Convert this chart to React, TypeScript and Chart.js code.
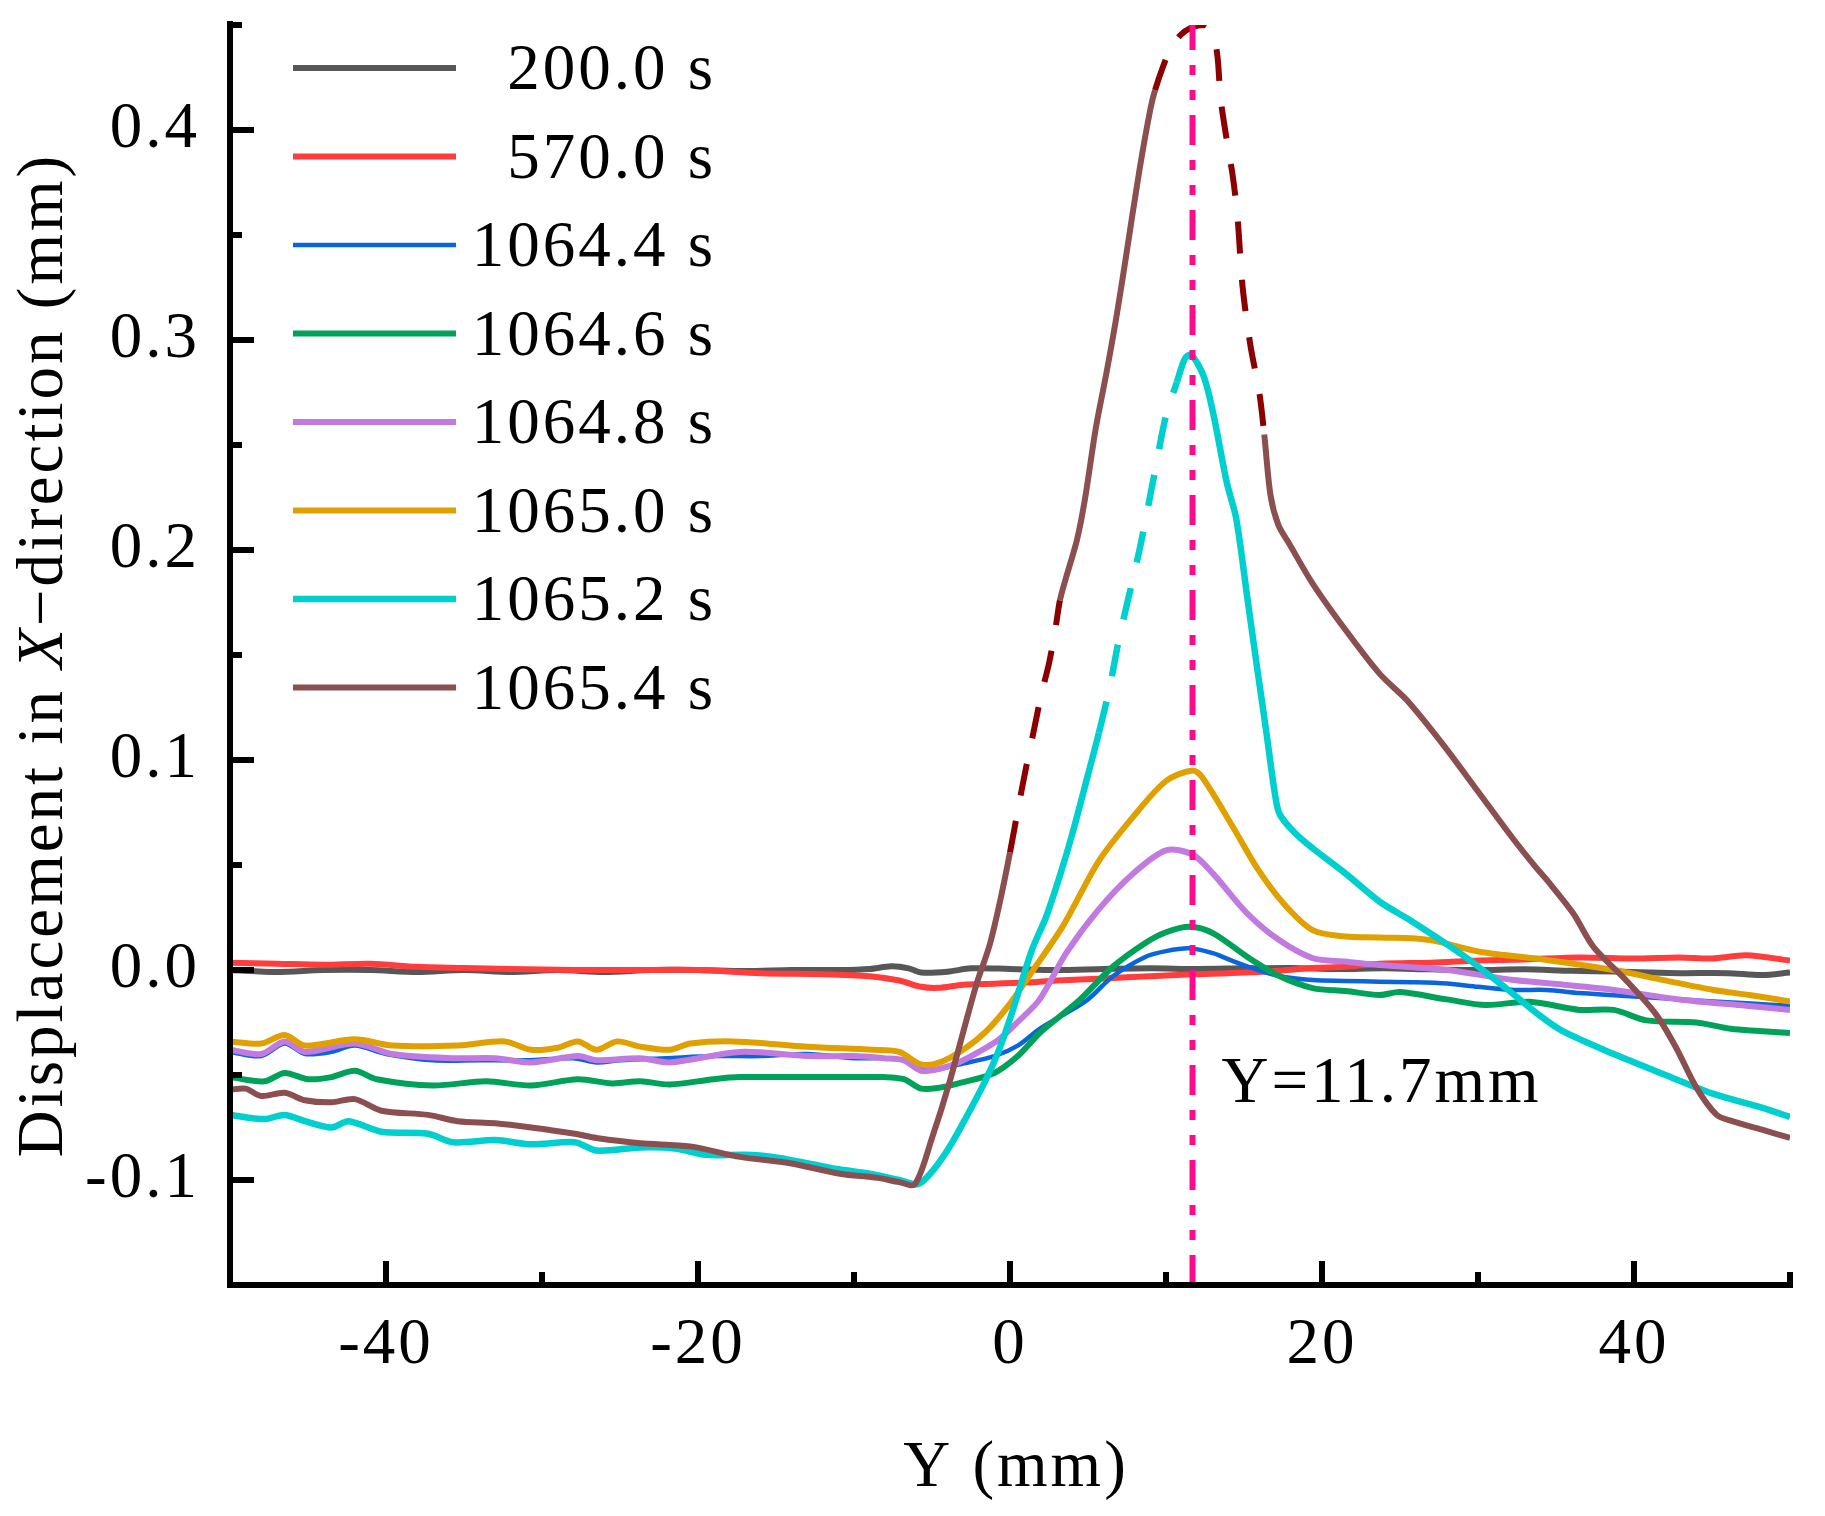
import { useEffect, useRef } from "react";
import Chart from "chart.js/auto";

const FONT = "'Liberation Serif', 'Times New Roman', serif";
const SPACING = "3px";

const seriesLabels = ["200.0 s", "570.0 s", "1064.4 s", "1064.6 s", "1064.8 s", "1065.0 s", "1065.2 s", "1065.4 s"];
const seriesColors = ["#575757", "#ff3d3d", "#0a64dc", "#00a25a", "#c07ae0", "#e0a000", "#00cfd0", "#8c4f4f"];
const seriesWidths = [6, 6, 4.5, 6, 6, 6, 6.5, 6];

const x200 = [-50, -47, -44, -41, -38, -35, -32, -29, -26, -23, -20, -17, -14, -11, -9, -7.6, -6.5, -5.7, -4, -2.5, 0, 3, 6, 9, 12, 15, 18, 21, 24, 27, 30, 33, 36, 38.7, 41, 43, 46, 48.2, 50];
const y200 = [0.0, -0.001, 0.0, 0.0, -0.001, 0.0, -0.001, 0.0, -0.001, 0.0, 0.0, -0.0005, 0.0, 0.0, 0.0005, 0.0018, 0.0008, -0.0012, -0.0008, 0.0008, 0.0005, 0.0, 0.0005, 0.0008, 0.0005, 0.0008, 0.001, 0.0005, 0.0008, 0.0003, 0.0, 0.0003, -0.0004, -0.0007, -0.0012, -0.0015, -0.0015, -0.0024, -0.0012];

const x570 = [-50, -47, -44, -41, -38, -35, -32, -28, -24, -20, -16, -12, -9, -7.1, -5.7, -4.6, -3, -1, 1, 3, 6, 9, 11.7, 14, 17, 19.4, 21.5, 23.7, 27, 30.1, 33, 36.5, 40, 42.9, 45, 47.2, 50];
const y570 = [0.0035, 0.003, 0.0025, 0.003, 0.0015, 0.001, 0.0005, 0.0, 0.0, 0.0, -0.0015, -0.002, -0.003, -0.005, -0.008, -0.0085, -0.007, -0.0065, -0.006, -0.005, -0.004, -0.003, -0.002, -0.0015, -0.0005, 0.001, 0.0015, 0.003, 0.0035, 0.0045, 0.005, 0.006, 0.0055, 0.006, 0.0055, 0.007, 0.0045];

const x1064_4 = [-50, -48, -46.5, -45.2, -43.5, -42, -40, -37, -34, -31, -28, -26.5, -25, -22, -19, -16, -13, -10, -8, -6.8, -5.7, -4.5, -3.3, -1.0, 0.5, 1.9, 3.5, 5.0, 6.6, 8.7, 10.0, 11.5, 13.0, 14.1, 15.5, 17.3, 19.4, 21.5, 23.7, 26, 28, 30, 32.3, 34.4, 36.5, 38.7, 40.8, 43, 45.1, 47.5, 50];
const y1064_4 = [-0.039, -0.041, -0.035, -0.04, -0.039, -0.036, -0.04, -0.043, -0.043, -0.043, -0.042, -0.044, -0.043, -0.042, -0.041, -0.041, -0.04, -0.042, -0.042, -0.043, -0.047, -0.047, -0.045, -0.041, -0.036, -0.028, -0.021, -0.014, -0.003, 0.0063, 0.009, 0.0103, 0.008, 0.0048, 0.001, -0.003, -0.0048, -0.0052, -0.0056, -0.0058, -0.0064, -0.008, -0.0095, -0.0095, -0.011, -0.012, -0.013, -0.014, -0.015, -0.016, -0.017];

const x1064_6 = [-50, -47.8, -46.5, -45, -43.5, -42, -40.6, -37, -33.6, -30.7, -27.7, -25.5, -23.7, -21.8, -19, -17.3, -13, -10, -8.1, -6.8, -5.7, -4.5, -3.3, -1.0, 0.5, 1.9, 3.2, 4.5, 6.6, 8.7, 10, 11.5, 13, 15.2, 17.3, 19.4, 21.5, 23.7, 25, 28, 30.5, 33.3, 36.5, 38.7, 40.8, 44, 46.2, 48, 50];
const y1064_6 = [-0.051, -0.053, -0.049, -0.052, -0.051, -0.048, -0.052, -0.055, -0.053, -0.055, -0.052, -0.054, -0.053, -0.0545, -0.052, -0.051, -0.051, -0.051, -0.051, -0.052, -0.0565, -0.056, -0.054, -0.049, -0.041, -0.03, -0.022, -0.014, 0.0016, 0.013, 0.018, 0.0206, 0.0176, 0.0063, -0.003, -0.0086, -0.01, -0.0119, -0.0105, -0.014, -0.0167, -0.0151, -0.019, -0.019, -0.024, -0.025, -0.028, -0.029, -0.03];

const x1064_8 = [-50, -48, -46.5, -45.2, -42, -39.6, -35.8, -33, -30.7, -27.7, -26.5, -23.7, -21.8, -17.3, -13, -10, -8.1, -6.8, -5.7, -4.5, -3.3, -2, -0.7, 0.6, 1.9, 3.6, 5.7, 7.9, 10.0, 11.7, 13.0, 15.2, 17.3, 19.4, 21.5, 23.7, 28, 32.3, 35.5, 38.7, 42.9, 47.2, 50];
const y1064_8 = [-0.038, -0.04, -0.034, -0.039, -0.035, -0.04, -0.042, -0.042, -0.044, -0.041, -0.043, -0.042, -0.044, -0.039, -0.041, -0.041, -0.042, -0.043, -0.048, -0.047, -0.044, -0.039, -0.033, -0.024, -0.014, 0.008, 0.029, 0.046, 0.057, 0.055, 0.046, 0.027, 0.014, 0.0057, 0.004, 0.0024, 0.0, -0.0048, -0.007, -0.0095, -0.014, -0.017, -0.019];

const x1065_0 = [-50, -48, -46.5, -45.2, -42, -39.6, -35.4, -32.4, -30.7, -29, -27.7, -26.5, -25.2, -23.7, -21.8, -20.5, -17.7, -13, -8.8, -7.1, -5.7, -4.5, -3.0, -1.5, 0, 1.3, 3.4, 5.7, 7.9, 10.0, 11.7, 12.3, 14.3, 15.8, 17.5, 19.4, 21.5, 23.7, 26.9, 30.1, 34.4, 38.7, 41.9, 45.1, 47.5, 50];
const y1065_0 = [-0.034, -0.035, -0.031, -0.036, -0.033, -0.036, -0.036, -0.034, -0.038, -0.037, -0.034, -0.038, -0.034, -0.0365, -0.038, -0.035, -0.034, -0.0365, -0.038, -0.039, -0.045, -0.044, -0.038, -0.029, -0.016, -0.002, 0.021, 0.052, 0.073, 0.09, 0.095, 0.092, 0.068, 0.049, 0.032, 0.019, 0.016, 0.0155, 0.0143, 0.0087, 0.0048, 0.0, -0.0048, -0.0095, -0.012, -0.015];

const x1065_2 = [-50, -47.8, -46.5, -45.2, -43.5, -42.4, -40.3, -37.3, -35.7, -33, -30.7, -27.9, -26.5, -23.7, -21.5, -19.5, -17, -15.2, -13, -10.9, -9, -7.1, -5.9, -5, -3.9, -2.8, -1.6, -0.7, 0.1, 1.4, 2.3, 3.2, 4.0, 5.0, 5.7, 6.4, 7.0, 8.3, 9.2, 10.0, 10.7, 11.2, 11.6, 12.4, 13.0, 13.9, 14.5, 15.2, 15.8, 16.4, 17.0, 17.3, 18.3, 19.4, 21.5, 23.7, 25.8, 29, 31.8, 33.9, 35.4, 38.7, 41.9, 45.1, 48.2, 50];
const y1065_2 = [-0.069, -0.071, -0.069, -0.072, -0.075, -0.072, -0.077, -0.078, -0.082, -0.081, -0.083, -0.082, -0.086, -0.0845, -0.085, -0.088, -0.088, -0.089, -0.092, -0.095, -0.097, -0.1, -0.102, -0.096, -0.0845, -0.07, -0.053, -0.038, -0.021, 0.0095, 0.025, 0.045, 0.065, 0.093, 0.113, 0.135, 0.158, 0.2, 0.234, 0.264, 0.28, 0.291, 0.293, 0.283, 0.266, 0.232, 0.215, 0.178, 0.146, 0.115, 0.083, 0.074, 0.065, 0.058, 0.046, 0.0325, 0.023, 0.0072, -0.0087, -0.0214, -0.029, -0.04, -0.0496, -0.059, -0.0655, -0.07];

const x1065_4 = [-50, -49, -48, -46.5, -45.2, -43.5, -42, -40.3, -37.3, -35.4, -33, -30.7, -27.9, -26.5, -23.7, -20.5, -17.3, -14.1, -10.9, -8.5, -7.1, -6.1, -5.0, -3.9, -2.2, -1.3, -0.6, 0.0, 0.6, 1.1, 1.5, 2.0, 2.5, 2.9, 3.2, 3.6, 4.3, 4.8, 5.5, 6.2, 6.8, 7.4, 8.3, 9.0, 9.3, 9.8, 10.2, 10.9, 11.7, 12.5, 13.0, 13.3, 13.5, 13.9, 14.3, 14.6, 14.9, 15.4, 16.0, 16.3, 16.7, 17.2, 17.9, 19.4, 21.5, 23.7, 25.5, 27.8, 30, 32.2, 33.7, 34.4, 36.1, 37.4, 39.5, 41.4, 42.7, 44.0, 45.3, 46.3, 48.2, 50];
const y1065_4 = [-0.057, -0.0565, -0.06, -0.0585, -0.062, -0.063, -0.0615, -0.067, -0.069, -0.072, -0.073, -0.075, -0.078, -0.08, -0.0825, -0.084, -0.089, -0.092, -0.097, -0.099, -0.101, -0.102, -0.08, -0.054, -0.008, 0.012, 0.034, 0.056, 0.08, 0.099, 0.113, 0.131, 0.146, 0.162, 0.176, 0.187, 0.205, 0.224, 0.258, 0.285, 0.31, 0.338, 0.381, 0.41, 0.419, 0.43, 0.437, 0.445, 0.449, 0.45, 0.446, 0.435, 0.415, 0.395, 0.377, 0.357, 0.326, 0.298, 0.274, 0.255, 0.226, 0.212, 0.203, 0.184, 0.162, 0.141, 0.128, 0.107, 0.085, 0.063, 0.049, 0.043, 0.027, 0.011, -0.005, -0.021, -0.037, -0.056, -0.069, -0.072, -0.076, -0.08];

const seriesX = [x200, x570, x1064_4, x1064_6, x1064_8, x1065_0, x1065_2, x1065_4];
const seriesY = [y200, y570, y1064_4, y1064_6, y1064_8, y1065_0, y1065_2, y1065_4];

// x-ranges drawn dashed (estimated parts of the curves)
const cyanDashed = [[5.7, 10.7]];
const brownDashed = [[0.0, 3.2], [9.3, 16.3]];

const xTicks = [-40, -20, 0, 20, 40];
const xMinorTicks = [-50, -30, -10, 10, 30, 50];
const yTicks = [-0.1, 0, 0.1, 0.2, 0.3, 0.4];
const yMinorTicks = [-0.05, 0.05, 0.15, 0.25, 0.35, 0.45];
const markerY = 11.7;

const inRanges = (ranges: number[][]) => (c: any) =>
  ranges.some(([a, b]) => c.p0.parsed.x >= a - 1e-6 && c.p1.parsed.x <= b + 1e-6);

// the original text is set a little wider than Liberation Serif
const spacing = {
  id: "spacing",
  beforeUpdate(chart: any) {
    chart.ctx.letterSpacing = SPACING;
  },
  beforeDraw(chart: any) {
    chart.ctx.letterSpacing = SPACING;
  },
};

const decorations = {
  id: "decorations",
  afterDatasetsDraw(chart: any) {
    const { ctx, chartArea: a, scales } = chart;
    const sx = scales.x;
    const sy = scales.y;
    ctx.save();
    ctx.letterSpacing = SPACING;

    // vertical marker
    const mx = sx.getPixelForValue(markerY);
    ctx.strokeStyle = "#ff0a8c";
    ctx.lineWidth = 6;
    ctx.setLineDash([30, 15, 10, 15, 10, 15]);
    ctx.beginPath();
    ctx.moveTo(mx, a.bottom);
    ctx.lineTo(mx, a.top);
    ctx.stroke();
    ctx.setLineDash([]);

    ctx.fillStyle = "#000";
    ctx.font = `65px ${FONT}`;
    ctx.textAlign = "left";
    ctx.textBaseline = "alphabetic";
    ctx.fillText(`Y=${markerY}mm`, mx + 29, sy.getPixelForValue(-0.063));

    // axes
    ctx.strokeStyle = "#000";
    ctx.lineWidth = 6;
    ctx.beginPath();
    ctx.moveTo(a.left, a.top - 4);
    ctx.lineTo(a.left, a.bottom + 3);
    ctx.moveTo(a.left - 3, a.bottom);
    ctx.lineTo(a.right + 3, a.bottom);
    ctx.stroke();

    ctx.beginPath();
    xTicks.forEach((v) => {
      const p = sx.getPixelForValue(v);
      ctx.moveTo(p, a.bottom);
      ctx.lineTo(p, a.bottom - 24);
    });
    xMinorTicks.forEach((v) => {
      const p = sx.getPixelForValue(v);
      ctx.moveTo(p, a.bottom);
      ctx.lineTo(p, a.bottom - 13);
    });
    yTicks.forEach((v) => {
      const p = sy.getPixelForValue(v);
      ctx.moveTo(a.left, p);
      ctx.lineTo(a.left + 24, p);
    });
    yMinorTicks.forEach((v) => {
      const p = sy.getPixelForValue(v);
      ctx.moveTo(a.left, p);
      ctx.lineTo(a.left + 12, p);
    });
    ctx.stroke();

    // legend
    ctx.font = `65px ${FONT}`;
    ctx.textAlign = "right";
    ctx.textBaseline = "middle";
    chart.data.datasets.forEach((ds: any, i: number) => {
      const y = a.top + 43 + i * 88.5;
      ctx.strokeStyle = ds.borderColor;
      ctx.lineWidth = ds.borderWidth;
      ctx.beginPath();
      ctx.moveTo(a.left + 63, y);
      ctx.lineTo(a.left + 226, y);
      ctx.stroke();
      ctx.fillStyle = "#000";
      ctx.fillText(ds.label, a.left + 486, y + 4);
    });

    // x title
    ctx.textAlign = "center";
    ctx.textBaseline = "alphabetic";
    ctx.fillText("Y (mm)", (a.left + a.right) / 2 + 6, 1486);

    // y title with italic X
    const parts = [
      { t: "Displacement in ", f: `65px ${FONT}` },
      { t: "X", f: `italic 65px ${FONT}` },
      { t: "\u2212direction (mm)", f: `65px ${FONT}` },
    ];
    let total = 0;
    parts.forEach((p) => {
      ctx.font = p.f;
      total += ctx.measureText(p.t).width;
    });
    ctx.translate(62, (a.top + a.bottom) / 2);
    ctx.rotate(-Math.PI / 2);
    ctx.textAlign = "left";
    let cx = -total / 2;
    parts.forEach((p) => {
      ctx.font = p.f;
      ctx.fillText(p.t, cx, 0);
      cx += ctx.measureText(p.t).width;
    });
    ctx.restore();
  },
};

export default function App() {
  const canvasRef = useRef<HTMLCanvasElement | null>(null);

  useEffect(() => {
    if (!canvasRef.current) return;

    const datasets = seriesLabels.map((label, i) => {
      const ds: any = {
        label,
        data: seriesX[i].map((x, j) => ({ x, y: seriesY[i][j] })),
        borderColor: seriesColors[i],
        borderWidth: seriesWidths[i],
        pointRadius: 0,
        tension: 0.3,
        borderJoinStyle: "round",
        fill: false,
        order: seriesLabels.length - i,
      };
      if (i === 6) {
        const dashed = inRanges(cyanDashed);
        ds.segment = { borderDash: (c: any) => (dashed(c) ? [32, 26] : undefined) };
      }
      if (i === 7) {
        const dashed = inRanges(brownDashed);
        ds.segment = {
          borderDash: (c: any) => (dashed(c) ? [32, 26] : undefined),
          borderColor: (c: any) => (dashed(c) ? "#8b0000" : undefined),
        };
      }
      return ds;
    });

    const chart = new Chart(canvasRef.current, {
      type: "line",
      data: { datasets },
      plugins: [spacing, decorations],
      options: {
        responsive: true,
        maintainAspectRatio: false,
        animation: false,
        layout: { padding: { top: 25, right: 35, left: 0, bottom: 0 } },
        plugins: {
          legend: { display: false },
          tooltip: { enabled: false },
        },
        scales: {
          x: {
            type: "linear",
            min: -50,
            max: 50,
            afterBuildTicks: (axis: any) => {
              axis.ticks = xTicks.map((value) => ({ value }));
            },
            afterFit: (scale: any) => {
              scale.height = 231;
              scale.paddingLeft = 0;
              scale.paddingRight = 0;
            },
            grid: { display: false, drawTicks: false },
            border: { display: false },
            ticks: {
              color: "#000",
              padding: 22,
              maxRotation: 0,
              font: { family: FONT, size: 65 },
            },
          },
          y: {
            type: "linear",
            min: -0.15,
            max: 0.45,
            afterBuildTicks: (axis: any) => {
              axis.ticks = yTicks.map((value) => ({ value }));
            },
            afterFit: (scale: any) => {
              scale.width = 230;
              scale.paddingTop = 0;
              scale.paddingBottom = 0;
            },
            grid: { display: false, drawTicks: false },
            border: { display: false },
            ticks: {
              color: "#000",
              padding: 30,
              font: { family: FONT, size: 65 },
              callback: (value: any) => Number(value).toFixed(1),
            },
          },
        },
      },
    });

    return () => {
      chart.destroy();
    };
  }, []);

  return (
    <div
      style={{
        position: "absolute",
        left: 0,
        top: 0,
        width: 1825,
        height: 1516,
        background: "#fff",
      }}
    >
      <canvas ref={canvasRef}></canvas>
    </div>
  );
}
